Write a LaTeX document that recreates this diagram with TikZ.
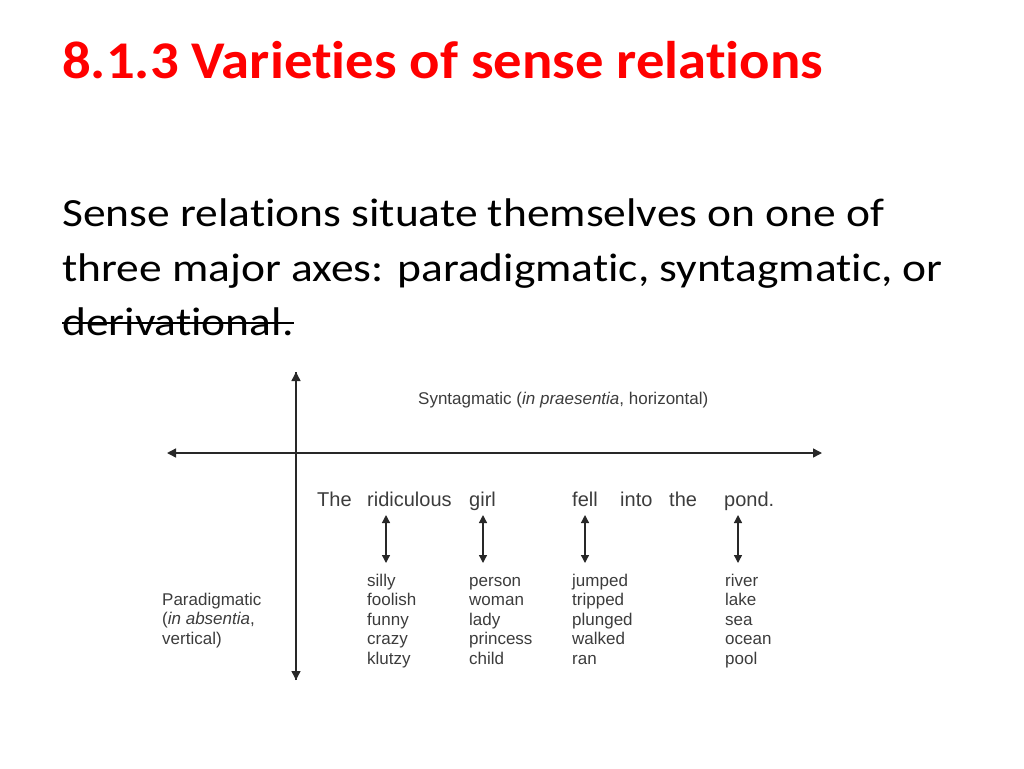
\documentclass[tikz,border=0pt]{standalone}
\usepackage{fontspec}
\setmainfont{Carlito}[Ligatures=NoCommon]
\newfontfamily\diagfont{Liberation Sans}
\usetikzlibrary{arrows.meta,positioning}
\definecolor{titlered}{RGB}{255,0,0}
\definecolor{diagtext}{RGB}{60,60,60}
\definecolor{diagline}{RGB}{40,40,40}
\tikzstyle{slidetitle}=[inner sep=0pt, anchor=base west, transform shape, xscale=1.07, text=titlered, font=\fontsize{53}{60}\selectfont\bfseries]
\tikzstyle{bodyline}=[inner sep=0pt, anchor=base west, transform shape, xscale=1.137, font=\fontsize{40}{48}\selectfont]
\tikzstyle{word}=[inner sep=0pt, anchor=base west, text=diagtext, font=\diagfont\fontsize{20}{22}\selectfont]
\tikzstyle{wordlist}=[inner sep=0pt, anchor=base west, text=diagtext, align=left, font=\diagfont\fontsize{17}{19.5}\selectfont]
\tikzstyle{axis}=[draw=diagline, line width=1.4pt, {Triangle[length=9pt,width=9pt]}-{Triangle[length=9pt,width=9pt]}]
\tikzstyle{uparrow}=[draw=diagline, line width=1.4pt, -{Triangle[length=9pt,width=9pt]}]
\tikzstyle{pairarrow}=[draw=diagline, line width=1.3pt, {Triangle[length=8pt,width=8pt]}-{Triangle[length=8pt,width=8pt]}]

\begin{document}
\begin{tikzpicture}[x=1pt,y=-1pt]
    \useasboundingbox (0,0) rectangle (1024,768);

    % slide text
    \node[slidetitle] (title) at (62,78) {8.1.3 Varieties of sense relations};
    \node[bodyline] (line1) at (62,226) {Sense relations situate themselves on one of};
    \node[bodyline] (line2) at (62,281) {three major axes: paradigmatic, syntagmatic, or};
    \node[bodyline] (deriv) at (62,335) {derivational.};
    \draw[line width=2pt] ([yshift=12pt]deriv.base west) -- ([yshift=12pt]deriv.base east);

    % axes
    \coordinate (hleft) at (167,453);
    \coordinate (hright) at (822,453);
    \coordinate (vtop) at (296,372);
    \coordinate (vbottom) at (296,680);
    \draw[axis] (hleft) -- (hright);
    \draw[uparrow] (vbottom) -- (vtop);
    \draw[uparrow] (vtop) -- (vbottom);

    % axis labels (multi-line nodes sit on their last line)
    \node[wordlist] (syntag) at (418,404) {Syntagmatic (\textit{in praesentia}, horizontal)};
    \node[wordlist] (paradig) at (162,644) {Paradigmatic\\(\textit{in absentia},\\vertical)};

    % sentence
    \node[word] (the) at (317,506) {The};
    \node[word] (ridiculous) at (367,506) {ridiculous};
    \node[word] (girl) at (469,506) {girl};
    \node[word] (fell) at (572,506) {fell};
    \node[word] (into) at (620,506) {into};
    \node[word] (the2) at (669,506) {the};
    \node[word] (pond) at (724,506) {pond.};

    % substitutes
    \node[wordlist] (adjlist) at (367,664) {silly\\foolish\\funny\\crazy\\klutzy};
    \node[wordlist] (nounlist) at (469,664) {person\\woman\\lady\\princess\\child};
    \node[wordlist] (verblist) at (572,664) {jumped\\tripped\\plunged\\walked\\ran};
    \node[wordlist] (placelist) at (725,664) {river\\lake\\sea\\ocean\\pool};

    % paradigmatic arrows
    \draw[pairarrow] ([xshift=19pt,yshift=-9pt]ridiculous.base west) -- ([xshift=19pt,yshift=101pt]adjlist.base west);
    \draw[pairarrow] ([xshift=14pt,yshift=-9pt]girl.base west) -- ([xshift=14pt,yshift=101pt]nounlist.base west);
    \draw[pairarrow] ([xshift=13pt,yshift=-9pt]fell.base west) -- ([xshift=13pt,yshift=101pt]verblist.base west);
    \draw[pairarrow] ([xshift=14pt,yshift=-9pt]pond.base west) -- ([xshift=13pt,yshift=101pt]placelist.base west);
\end{tikzpicture}
\end{document}
